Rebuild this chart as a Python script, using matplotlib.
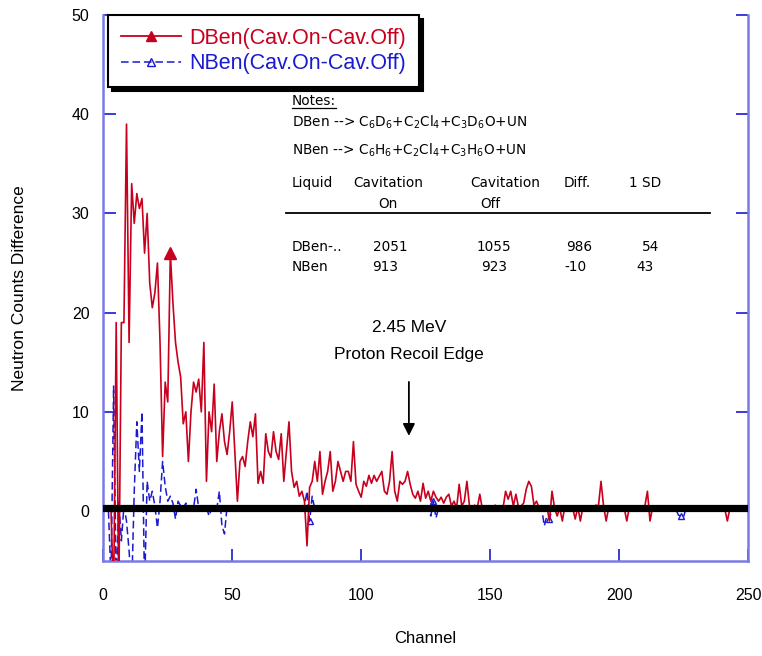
import numpy as np
import matplotlib
matplotlib.use("Agg")
import matplotlib.pyplot as plt
from matplotlib.lines import Line2D

plt.rcParams['font.family'] = ['Liberation Sans', 'DejaVu Sans']
plt.rcParams['mathtext.default'] = 'regular'

# ---------------- data ----------------
dben_start = 3
dben = [
    0, -9, 19, -9, 19, 19, 39, 17, 33, 29,            # 3-12
    32, 30.5, 31.5, 26, 30, 23, 20.5, 22, 25, 17,     # 13-22
    5.5, 13, 11, 26, 21, 17, 15, 13.5, 8.8, 10,       # 23-32
    5, 10, 13, 12, 13.3, 10, 17, 3, 10, 8,            # 33-42
    12.8, 5, 8, 9.8, 7, 5.7, 8, 11, 6, 1,             # 43-52
    5, 5.5, 4.5, 7, 9, 7.5, 9.8, 2.8, 4, 2.8,         # 53-62
    7.8, 6, 5.4, 8, 6, 5.2, 7.8, 3, 6, 9,             # 63-72
    4, 2.4, 3, 1.5, 2, 1, -3.5, 2.4, 3, 5,            # 73-82
    3, 6, 1.7, 3, 4, 6, 2, 3, 5, 4,                   # 83-92
    3, 4, 4, 3, 7, 2.7, 2, 1.4, 3, 2.5,               # 93-102
    3.6, 2.8, 3.6, 3, 3.5, 4, 2, 1.7, 3, 6,           # 103-112
    2, 1, 3, 2.7, 3, 4, 2.7, 1.7, 1.3, 2,             # 113-122
    1, 2.8, 1.3, 2, 1, 2, 1.4, 1, 1.4, 0.8,           # 123-132
    1.4, 1.7, 0.5, 1, 0.3, 2.7, 0.5, 1, 3, 0.5,       # 133-142
    0.3, 0.6, 0.3, 1.7, 0.2, 0.5, 0.2, 0.4, 0.3, 0.6, # 143-152
    0.2, 0.4, 0.3, 2, 1.2, 2, 0.5, 1.7, 0.4, 0.5,     # 153-162
    0.8, 2.2, 3, 2.5, 0.6, 1, 0.3, 0.4, 0.2, 0.5,     # 163-172
    -1, 2, 0.3, -0.5, 0.3, -1, 0.5, 0.2, 0.4, 0.3,    # 173-182
    -0.8, 0.4, -1, 0.5, 0.2, 0.3, 0.5, 0.3, 0.6, 0.5, # 183-192
    3, 0.5, -1, 0.4, 0.2, 0.3, 0.5, 0.2, 0.4, 0.3,    # 193-202
    -1, 0.4, 0.2, 0.5, 0.3, 0.2, 0.4, 0.5, 2, -1,     # 203-212
    0.4, 0.3, 0.2, 0.4, 0.3, 0.5, 0.2, 0.3, 0.4, 0.3, # 213-222
    0.5, 0.2, 0.3, 0.4, 0.2, 0.5, 0.3, 0.2, 0.4, 0.3, # 223-232
    0.5, 0.2, 0.3, 0.4, 0.2, 0.5, 0.3, 0.4, 0.2, -1,  # 233-242
    0.3, 0.4, 0.2, 0.3, 0.5, 0.3, 0.4,                # 243-249
]

nben_start = 2
nben = [
    0, -7, 12.6, -8, 1, -3, 0.5, -1, -4, -8,          # 2-11
    2, 9, 4, 10, -8, 3, 1, 2, 0.5, -1.7,              # 12-21
    1, 5, 2.5, 1, 1.5, 0.8, -0.8, 1, 0.5, 0.3,        # 22-31
    0.8, 0.2, 0.5, 0.3, 2.2, 0.3, 0.5, 0.2, 0.4, -0.5,# 32-41
    0.3, 0.5, 0.2, 2, -1.5, -2.3, 0.5, 0.3, 0.4, 0.2, # 42-51
    0.3, 0.1, 0.4, 0.2, 0.3, 0.1, 0.4, 0.2, 0.3, 0.1, # 52-61
    0.4, 0.2, 0.3, 0.1, 0.4, 0.2, 0.3, 0.1, 0.4, 0.2, # 62-71
    0.3, 0.1, 0.4, 0.2, 0.3, 0.1, 0.5, 2, -1, 1.5,    # 72-81
    0.2, 0.3, 0.1, 0.4, 0.2, 0.3, 0.1, 0.4, 0.2, 0.3, # 82-91
    0.1, 0.4, 0.2, 0.3, 0.1, 0.4, 0.2, 0.3, 0.1, 0.4, # 92-101
    0.2, 0.3, 0.1, 0.4, 0.2, 0.3, 0.1, 0.4, 0.2, 0.3, # 102-111
    0.1, 0.4, 0.2, 0.3, 0.1, 0.4, 0.2, 0.3, 0.1, 0.4, # 112-121
    0.2, 0.3, 0.1, 0.4, 0.2, -0.5, 1, -0.7, 0.3, 0.1, # 122-131
    0.4, 0.2, 0.3, 0.1, 0.4, 0.2, 0.3, 0.1, 0.4, 0.2, # 132-141
    0.3, 0.1, 0.4, 0.2, 0.3, 0.1, 0.4, 0.2, 0.3, 0.1, # 142-151
    0.4, 0.2, 0.3, 0.1, 0.4, 0.2, 0.3, 0.1, 0.4, 0.2, # 152-161
    0.3, 0.1, 0.4, 0.2, 0.3, 0.1, 0.4, 0.2, 0.3, -1.5,# 162-171
    -0.5, -0.8, 0.2, 0.3, 0.1, 0.4, 0.2, 0.3, 0.1, 0.4,   # 172-181
    0.2, 0.3, 0.1, 0.4, 0.2, 0.3, 0.1, 0.4, 0.2, 0.3, # 182-191
    0.1, 0.4, 0.2, 0.3, 0.1, 0.4, 0.2, 0.3, 0.1, 0.4, # 192-201
    0.2, 0.3, 0.1, 0.4, 0.2, 0.3, 0.1, 0.4, 0.2, 0.3, # 202-211
    0.1, 0.4, 0.2, 0.3, 0.1, 0.4, 0.2, 0.3, 0.1, 0.4, # 212-221
    0.2, -0.4, -0.5, -0.6, 0.3, 0.1, 0.4, 0.2, 0.3, 0.1,  # 222-231
    0.4, 0.2, 0.3, 0.1, 0.4, 0.2, 0.3, 0.1, 0.4, 0.2, # 232-241
    0.3, 0.1, 0.4, 0.2, 0.3, 0.1, 0.4, 0.2,           # 242-249
]

baseline_level = 0.35
dben_marker_channels = [26]
nben_marker_channels = [80, 128, 173, 224]

legend_labels = ["DBen(Cav.On-Cav.Off)", "NBen(Cav.On-Cav.Off)"]
x_ticks = [0, 50, 100, 150, 200, 250]
y_ticks = [0, 10, 20, 30, 40, 50]

header_line1 = ["Liquid", "Cavitation", "Cavitation", "Diff.", "1 SD"]
header_line2 = ["", "On", "Off", "", ""]
table_rows = [["DBen-..", "2051", "1055", "986", "54"],
              ["NBen", "913", "923", "-10", "43"]]

arrow_channel = 118.5
arrow_tip, arrow_tail = 7.3, 13.3

# ---------------- plot ----------------
RED = "#c8001e"
BLUE = "#1a1ad0"
SPINE = "#7a7ae6"

fig = plt.figure(figsize=(7.62, 6.56), dpi=100)
ax = fig.add_axes([103.3 / 762, 1 - 560.7 / 656, 644.7 / 762, 545.7 / 656])

x_d = np.arange(dben_start, dben_start + len(dben))
x_n = np.arange(nben_start, nben_start + len(nben))
d_arr = np.array(dben, dtype=float)
n_arr = np.array(nben, dtype=float)

ax.plot(x_n, n_arr, color=BLUE, lw=1.1, ls=(0, (5, 2.5)), zorder=2)
ax.plot(x_d, d_arr, color=RED, lw=1.2, zorder=3)
mi_d = [int(c - dben_start) for c in dben_marker_channels]
ax.plot(x_d[mi_d], d_arr[mi_d], ls='none', marker='^', ms=8.5, color=RED, zorder=4)
mi_n = [int(c - nben_start) for c in nben_marker_channels]
ax.plot(x_n[mi_n], n_arr[mi_n], ls='none', marker='^', ms=5, mfc='none',
        mec=BLUE, mew=1.0, zorder=2.5)

ax.axhline(baseline_level, color='black', lw=5.2, zorder=5)

ax.set_xlim(0, 250)
ax.set_ylim(-5, 50)
ax.set_xticks(x_ticks)
ax.set_yticks(y_ticks)
ax.tick_params(direction='in', length=9, width=1.2, color=BLUE,
               labelsize=11.5, top=False, right=True)
ax.tick_params(axis='x', pad=20)
ax.tick_params(axis='y', pad=10)
for s in ax.spines.values():
    s.set_color(SPINE)
    s.set_linewidth(1.8)
ax.spines['top'].set_visible(False)

ax.set_xlabel("Channel", fontsize=12, labelpad=20)
ax.set_ylabel("Neutron Counts Difference", fontsize=12.5, labelpad=32)

handles = [Line2D([], [], color=RED, lw=1.3, marker='^', ms=7),
           Line2D([], [], color=BLUE, lw=1.1, ls=(0, (5, 2.5)), marker='^',
                  ms=6, mfc='none', mec=BLUE)]
leg = ax.legend(handles, legend_labels, loc='upper left',
                bbox_to_anchor=(0.007, 1.0), borderaxespad=0,
                fontsize=15.5, frameon=True,
                fancybox=False, edgecolor='black', framealpha=1,
                handlelength=2.8, handletextpad=0.4, borderpad=0.6,
                labelspacing=0.2,
                shadow={'color': 'black', 'alpha': 1, 'ox': 3, 'oy': -3})
leg.get_frame().set_linewidth(1.5)
for t, c in zip(leg.get_texts(), [RED, BLUE]):
    t.set_color(c)
leg.set_zorder(10)

# notes block (positions in pixel coords of the figure)
NF = ['DejaVu Sans']
fs = 9.8

def ftxt(px, py, s, ha='left', **kw):
    fig.text(px / 762, 1 - py / 656, s, va='center', ha=ha, family=NF,
             fontsize=fs, **kw)

ftxt(292, 101, "Notes:")
fig.add_artist(Line2D([292 / 762, 336 / 762], [1 - 108 / 656] * 2,
                      color='black', lw=0.9))
ftxt(292, 122, r"DBen --> C$_6$D$_6$+C$_2$Cl$_4$+C$_3$D$_6$O+UN")
ftxt(292, 150, r"NBen --> C$_6$H$_6$+C$_2$Cl$_4$+C$_3$H$_6$O+UN")

head_x = [292, 388, 505, 577, 645]
head_ha = ['left', 'center', 'center', 'center', 'center']
sub_x = [292, 388, 490, 577, 645]
for cx, h, al in zip(head_x, header_line1, head_ha):
    ftxt(cx, 183, h, ha=al)
for cx, h, al in zip(sub_x, header_line2, head_ha):
    if h:
        ftxt(cx, 204, h, ha=al)
fig.add_artist(Line2D([286 / 762, 710 / 762], [1 - 213 / 656] * 2,
                      color='black', lw=1.3))
row_y = [247, 267]
row_x = [[292, 390, 494, 579, 651],
         [292, 385, 494, 575, 645]]
for ry, rx, row in zip(row_y, row_x, table_rows):
    for cx, v, al in zip(rx, row, head_ha):
        ftxt(cx, ry, v, ha=al)

ax.annotate("", xy=(arrow_channel, arrow_tip), xytext=(arrow_channel, arrow_tail),
            arrowprops=dict(arrowstyle='-|>', color='black', lw=1.3,
                            mutation_scale=18), zorder=6)
ax.text(arrow_channel, 18.5, "2.45 MeV", ha='center', va='center', fontsize=12.5)
ax.text(arrow_channel, 15.8, "Proton Recoil Edge", ha='center', va='center',
        fontsize=12.5)

fig.savefig("out.png", dpi=100)
